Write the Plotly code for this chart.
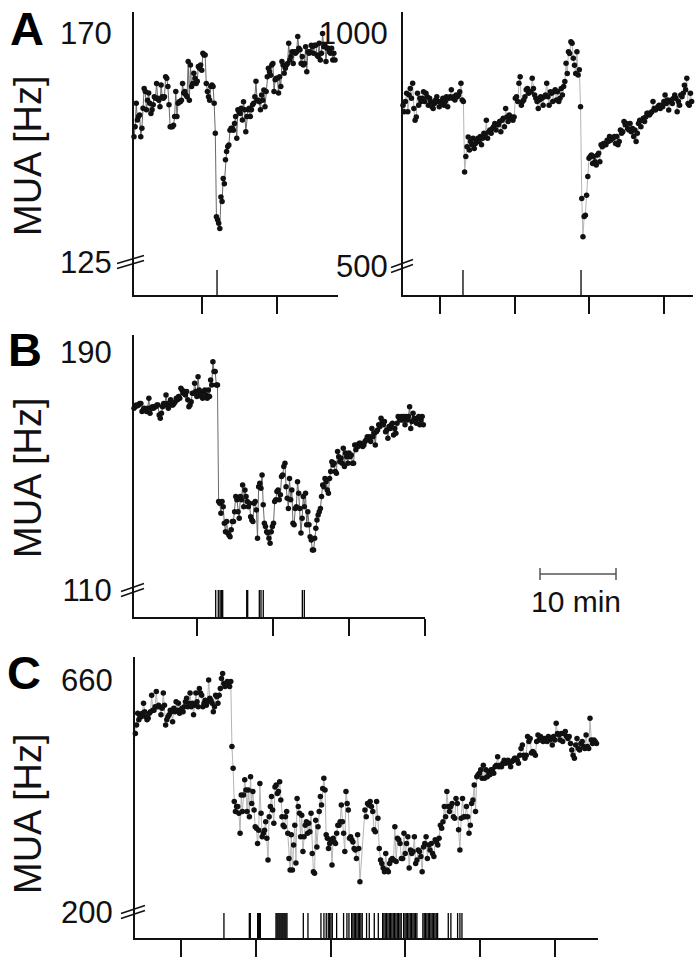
import numpy as np
import plotly.graph_objects as go

W, H = 700, 960
FONT = "Liberation Sans, Arial, Helvetica, sans-serif"

# ---------------- data (MUA in Hz) ----------------
A1_MUA = [149.6, 151.6, 156.2, 152.9, 153.6, 153.9, 149.6, 151.3, 155.2, 159.1, 158.5, 154.9, 156.8, 158.2, 156.2,
          154.2, 154.9, 155.9, 157.5, 157.2, 160.1, 157.2, 156.8, 155.5, 159.8, 157.5, 157.2, 157.5, 161.4, 161.1,
          159.5, 155.9, 151.6, 151.6, 151.6, 151.9, 153.6, 158.5, 153.6, 156.2, 156.5, 156.5, 156.8, 160.1, 158.2,
          158.5, 157.8, 157.5, 164.4, 156.8, 163.7, 159.5, 160.1, 162.1, 161.1, 160.1, 160.5, 163.4, 163.1, 163.7,
          162.7, 166.0, 165.7, 165.7, 160.1, 158.5, 157.5, 156.8, 159.5, 159.8, 159.5, 156.2, 150.3, 133.9, 133.3,
          132.6, 131.6, 137.8, 136.9, 141.4, 140.4, 145.1, 146.7, 147.7, 148.0, 150.9, 151.3, 151.3, 150.9, 152.2,
          153.6, 149.3, 154.9, 154.5, 154.2, 155.2, 152.9, 156.5, 154.9, 150.6, 153.6, 154.9, 155.2, 153.6, 154.9,
          155.9, 156.2, 157.5, 160.5, 156.8, 156.8, 156.5, 154.9, 157.8, 156.8, 158.8, 155.5, 158.5, 161.4, 163.1,
          162.4, 161.7, 163.7, 164.0, 158.5, 160.8, 161.1, 161.1, 158.2, 161.4, 159.5, 164.4, 163.7, 162.1, 163.1,
          163.7, 164.0, 168.0, 164.7, 165.4, 166.3, 164.0, 166.3, 166.0, 166.3, 169.3, 167.0, 166.7, 164.0, 165.4,
          163.7, 164.0, 167.3, 162.4, 166.3, 166.0, 166.3, 167.6, 167.3, 166.0, 167.6, 167.6, 165.7, 165.4, 168.0,
          164.7, 166.0, 169.9, 167.3, 167.6, 164.4, 167.0, 167.0, 166.3, 166.0, 167.0, 164.7, 166.0, 164.7]
A1_START, A1_END = 0.93, 27.73           # min
A1_TICKS = [10, 20]
A1_RANGE = [0.93, 28.13]
A1_EVENTS = [12.0]
A1_YTICKS = [125, 170]

A2_MUA = [845, 831, 853, 871, 831, 867, 881, 860, 892, 838, 813, 820, 871, 845, 860, 853, 860, 874, 853, 871, 863,
          845, 860, 853, 842, 838, 849, 856, 863, 853, 842, 853, 849, 860, 845, 853, 863, 842, 860, 863, 878, 860,
          863, 856, 867, 863, 867, 874, 892, 856, 853,
          702, 735, 756, 777, 749, 767, 760, 774, 752, 763, 770, 774, 767, 778, 760, 774, 785, 781, 813, 774, 788,
          792, 785, 795, 799, 806, 792, 803, 803, 810, 788, 813, 817, 799, 838, 820, 810, 824, 817, 820, 813, 820,
          860, 863, 853, 892, 906, 845, 853, 856, 863, 878, 881, 871, 874, 874, 903, 881, 867, 860, 853, 838, 856,
          863, 860, 845, 863, 867, 892, 863, 845, 874, 871, 853, 874, 878, 856, 874, 853, 860, 881, 867, 885, 896,
          935, 913, 960, 956, 981, 978, 946, 931, 913, 960, 910, 921, 842,
          645, 563, 606, 609, 652, 692, 731, 735, 738, 720, 735, 724, 717, 738, 742, 724, 760, 756, 763, 760, 760,
          770, 767, 778, 770, 774, 774, 778, 763, 778, 760, 767, 792, 785, 788, 810, 803, 806, 795, 792, 806, 788,
          795, 778, 792, 767, 785, 806, 813, 799, 813, 817, 810, 820, 828, 828, 824, 828, 831, 853, 838, 835, 838,
          842, 845, 838, 845, 842, 853, 867, 849, 856, 835, 853, 856, 849, 860, 867, 860, 831, 853, 845, 867, 863,
          871, 888, 878, 903, 849, 845, 871, 853]
A2_START, A2_END = 5.05, 43.69
A2_TICKS = [10, 20, 30, 40]
A2_RANGE = [5.05, 43.87]
A2_EVENTS = [13.08, 28.88]
A2_YTICKS = [500, 1000]

B_MUA = [171.1, 171.6, 172.2, 171.9, 172.2, 172.7, 172.7, 170.0, 170.5, 171.1, 170.5, 170.0, 171.1, 174.4, 169.4,
         171.1, 171.6, 171.1, 171.6, 171.6, 172.2, 172.2, 168.8, 167.7, 169.4, 171.6, 172.7, 172.2, 175.5, 172.7,
         171.1, 172.7, 173.9, 172.2, 172.2, 172.7, 173.3, 174.4, 173.9, 175.0, 174.4, 177.8, 177.2, 176.1, 176.7,
         175.5, 176.7, 173.9, 171.6, 172.2, 173.3, 176.1, 176.1, 179.5, 176.7, 175.0, 181.7, 177.2, 176.1, 175.0,
         174.4, 176.7, 177.2, 175.5, 174.4, 177.2, 175.0, 180.6, 178.9, 186.7, 183.4, 183.4, 178.9, 178.9,
         139.7, 139.1, 135.8, 139.7, 138.0, 132.4, 129.6, 133.0, 129.1, 128.5, 127.9, 130.2, 133.0, 133.0, 136.3,
         141.4, 140.3, 136.3, 134.1, 141.4, 140.3, 145.3, 138.0, 143.6, 141.4, 139.7, 138.0, 139.1, 134.6, 133.5,
         133.0, 139.1, 139.7, 136.9, 127.4, 144.7, 145.9, 144.2, 148.6, 138.6, 132.4, 131.3, 129.6, 129.1, 127.4,
         125.7, 129.6, 131.3, 132.4, 139.7, 140.3, 143.1, 143.6, 140.3, 142.0, 148.1, 148.6, 151.5, 152.6, 144.7,
         140.8, 137.4, 147.5, 140.3, 143.6, 132.4, 131.9, 137.4, 138.0, 146.4, 142.5, 137.4, 129.1, 134.1, 141.4,
         138.0, 142.5, 131.9, 136.3, 131.9, 127.9, 126.8, 123.4, 123.4, 127.4, 130.7, 133.5, 135.2, 136.3, 137.4,
         141.4, 145.3, 144.7, 147.5, 146.4, 143.6, 142.5, 147.5, 149.8, 153.1, 152.0, 152.6, 149.8, 149.2, 156.5,
         154.8, 153.1, 154.3, 152.6, 157.6, 151.5, 156.0, 154.8, 152.6, 156.0, 154.8, 155.4, 152.6, 152.6, 158.7,
         157.1, 158.7, 158.2, 159.3, 159.3, 158.7, 158.2, 158.7, 159.9, 160.4, 161.5, 161.0, 161.5, 159.9, 164.3,
         161.5, 162.7, 158.7, 163.2, 163.8, 165.5, 164.9, 167.7, 166.6, 165.5, 166.6, 163.2, 163.8, 161.0, 164.9,
         164.3, 165.5, 166.0, 162.1, 164.3, 162.7, 166.0, 168.3, 167.7, 167.1, 168.3, 167.1, 168.3, 165.5, 168.3,
         167.1, 168.3, 171.6, 164.3, 166.6, 169.4, 167.7, 167.1, 166.0, 167.7, 168.3, 165.5, 167.1, 168.3, 165.5]
B_START, B_END = 1.71, 39.78
B_TICKS = [10, 20, 30, 40]
B_RANGE = [1.71, 40.0]
B_EVENTS = [12.46, 12.80, 13.03, 13.20, 13.38, 16.54, 16.67, 18.20, 18.42, 18.72, 23.86, 24.12]
B_YTICKS = [110, 190]

C_MUA_1 = [554, 571, 594, 581, 587, 587, 594, 614, 597, 587, 581, 584, 594, 597, 630, 600, 600, 607, 637, 607, 610,
           607, 591, 604, 634, 610, 571, 581, 587, 591, 600, 597, 577, 604, 597, 617, 600, 614, 594, 600, 604, 597,
           607, 617, 624, 607, 614, 634, 607, 614, 591, 610, 634, 617, 607, 643, 634, 630, 607, 614, 620, 610, 617,
           660, 624, 620, 614, 597, 607, 630, 627, 614, 630, 643, 663, 673, 653, 647, 650, 657, 650, 647, 657,
           528, 485, 419, 399, 409, 409, 396, 356, 432, 399, 432, 462, 442, 399, 442, 389, 468, 415, 439, 402, 369,
           366, 336, 362, 455, 396, 349, 356, 362, 379, 346, 303, 389, 409, 429, 402, 376, 448, 452, 435, 439, 458,
           422, 389, 372, 369, 389, 399, 356, 306, 283, 353, 283, 333, 372, 297, 425, 409, 396, 349, 392, 320, 349,
           372, 379, 356, 376, 359, 396, 316, 280, 277, 382, 329, 369, 399, 429, 412, 445, 465, 442, 353, 346, 326,
           336, 343, 293, 346, 339, 336, 356, 372, 372, 379, 412, 379, 356, 320, 439, 415, 402, 346, 349, 343, 339,
           326, 323, 306, 353, 326, 260]
C_MUA_2 = [402, 389, 415, 412, 419, 409, 399, 363, 359, 419, 386, 326, 303, 296, 287, 280, 316, 283, 280, 296, 303,
           306, 303, 369, 300, 346, 343, 336, 306, 306, 356, 316, 336, 349, 287, 323, 316, 320, 349, 296, 303, 323,
           320, 310, 280, 329, 336, 349, 306, 333, 323, 336, 316, 310, 343, 339, 333, 346, 372, 366, 379, 409, 389,
           439, 409, 399, 409, 415, 389, 386, 425, 415, 363, 323, 386, 425, 389, 389, 409, 389, 356, 372, 415, 422,
           452, 399, 468, 472, 475, 482, 465, 491, 465, 482, 468, 478, 472, 482, 482, 475, 488, 491, 508, 488, 491,
           488, 495, 501, 495, 498, 501, 495, 488, 498, 501, 505, 505, 501, 495, 511, 524, 531, 511, 505, 511, 548,
           538, 544, 515, 518, 515, 511, 538, 551, 541, 548, 541, 538, 544, 541, 538, 548, 541, 544, 531, 548, 541,
           574, 554, 551, 541, 554, 538, 554, 558, 548, 544, 548, 534, 521, 511, 505, 531, 544, 524, 521, 534, 538,
           528, 524, 551, 528, 524, 584, 541, 534, 541, 538, 534]
C_START_1, C_END_1 = 3.85, 33.92
C_START_2, C_END_2 = 34.59, 65.6
C_TICKS = [10, 20, 30, 40, 50, 60]
C_RANGE = [3.8, 65.8]
C_EVENTS = [15.71, 19.11, 19.24, 20.22, 20.36, 20.49, 20.58,
            22.68, 22.81, 22.94, 23.08, 23.21, 23.35, 23.48, 23.61, 23.75, 23.88, 24.01, 24.15,
            26.34, 26.96, 28.70, 29.10, 29.41, 29.68, 29.86, 30.04, 30.22, 30.80, 31.73, 32.18, 32.45,
            32.81, 32.98, 33.16, 33.34, 33.52, 33.70, 33.88, 34.05, 34.23,
            34.81, 35.17, 35.84, 36.38,
            36.96, 37.13, 37.31, 37.49, 37.67, 37.85, 38.03, 38.20, 38.38, 38.56, 38.74, 38.92, 39.10, 39.28, 39.45,
            39.77, 39.95, 40.12, 40.30, 40.48, 40.66, 40.84, 41.02, 41.19, 41.37, 41.55,
            42.35, 42.53, 42.71, 42.89, 43.07, 43.25, 43.43, 43.60, 43.78, 43.96, 44.14, 44.32,
            45.75, 46.10, 47.00, 47.31, 47.58]
C_YTICKS = [200, 660]


def px_x(p):
    return p / W


def px_y(p):
    return 1 - p / H


panels = [
    dict(vals=A1_MUA, times=np.linspace(A1_START, A1_END, len(A1_MUA)), xr=A1_RANGE, yr=[118.52, 174.13],
         pxx=(134, 338), pyy=(295, 12), ticks=A1_TICKS, yt=A1_YTICKS, ev=A1_EVENTS, lc="#6a6a6a",
         evh=25, stand=14, brk=(-17, 10)),
    dict(vals=A2_MUA, times=np.linspace(A2_START, A2_END, len(A2_MUA)), xr=A2_RANGE, yr=[437.8, 1045.1],
         pxx=(403, 693), pyy=(295, 12), ticks=A2_TICKS, yt=A2_YTICKS, ev=A2_EVENTS, lc="#b5b5b5",
         evh=25, stand=7, brk=(-12, 10)),
    dict(vals=B_MUA, times=np.linspace(B_START, B_END, len(B_MUA)), xr=B_RANGE, yr=[100.9, 195.7],
         pxx=(134, 425), pyy=(617, 335), ticks=B_TICKS, yt=B_YTICKS, ev=B_EVENTS, lc="#6a6a6a",
         evh=27, stand=14, brk=(-13, 10)),
    dict(vals=C_MUA_1 + C_MUA_2,
         times=np.concatenate([np.linspace(C_START_1, C_END_1, len(C_MUA_1)),
                               np.linspace(C_START_2, C_END_2, len(C_MUA_2))]),
         xr=C_RANGE, yr=[148.4, 705.6],
         pxx=(135, 598), pyy=(938, 657), ticks=C_TICKS, yt=C_YTICKS, ev=C_EVENTS, lc="#b5b5b5",
         evh=25, stand=14, brk=(-14, 10)),
]

fig = go.Figure()
shapes = []
layout = dict(
    width=W, height=H, margin=dict(l=0, r=0, t=0, b=0), template="none",
    paper_bgcolor="white", plot_bgcolor="rgba(0,0,0,0)", showlegend=False,
    font=dict(family=FONT, color="#111111"),
)

for i, p in enumerate(panels, start=1):
    sx = "" if i == 1 else str(i)
    fig.add_trace(go.Scatter(
        x=p["times"], y=p["vals"], mode="lines+markers", xaxis="x" + sx, yaxis="y" + sx,
        line=dict(color=p["lc"], width=1), marker=dict(color="#111111", size=5.5),
        hoverinfo="skip", cliponaxis=False))
    layout["xaxis" + sx] = dict(
        domain=[px_x(p["pxx"][0]), px_x(p["pxx"][1])], range=p["xr"], anchor="y" + sx,
        showline=True, linecolor="#111111", linewidth=2, ticks="outside", ticklen=17, tickwidth=2,
        tickcolor="#111111", tickvals=p["ticks"], showticklabels=False, showgrid=False, zeroline=False,
        automargin=False, fixedrange=True)
    layout["yaxis" + sx] = dict(
        domain=[px_y(p["pyy"][0]), px_y(p["pyy"][1])], range=p["yr"], anchor="x" + sx,
        showline=True, linecolor="#111111", linewidth=2, ticks="", tickvals=p["yt"],
        ticktext=[str(v) for v in p["yt"]], tickfont=dict(size=31, family=FONT, color="#111111"),
        ticklabelstandoff=p["stand"], showgrid=False, zeroline=False, automargin=False, fixedrange=True)
    # event markers
    dom_h = p["pyy"][0] - p["pyy"][1]
    for t in p["ev"]:
        shapes.append(dict(type="line", xref="x" + sx, yref="y" + sx + " domain", x0=t, x1=t,
                           y0=0, y1=p["evh"] / dom_h, line=dict(color="#000000", width=1.3)))
    # axis break marks at lower labelled value
    y0v, y1v = p["yr"]
    bpy = p["pyy"][0] - (p["yt"][0] - y0v) / (y1v - y0v) * dom_h
    ax = p["pxx"][0]
    for off in (-2.5, 2.5):
        shapes.append(dict(type="line", xref="paper", yref="paper",
                           x0=px_x(ax + p["brk"][0]), y0=px_y(bpy + off + 4),
                           x1=px_x(ax + p["brk"][1]), y1=px_y(bpy + off - 4),
                           line=dict(color="#111111", width=1.5)))

# scale bar (10 min)
SB_X0, SB_X1, SB_Y = 540, 616, 574
shapes.append(dict(type="line", xref="paper", yref="paper", x0=px_x(SB_X0), x1=px_x(SB_X1),
                   y0=px_y(SB_Y), y1=px_y(SB_Y), line=dict(color="#555555", width=1.5)))
for xx in (SB_X0, SB_X1):
    shapes.append(dict(type="line", xref="paper", yref="paper", x0=px_x(xx), x1=px_x(xx),
                       y0=px_y(SB_Y - 6), y1=px_y(SB_Y + 6), line=dict(color="#555555", width=1.5)))

annotations = []
for letter, (lx, ly) in zip(["A", "B", "C"], [(27, 29), (25, 350), (24, 672)]):
    annotations.append(dict(text="<b>" + letter + "</b>", x=px_x(lx), y=px_y(ly), xref="paper", yref="paper",
                            showarrow=False, xanchor="center", yanchor="middle",
                            font=dict(size=47, family=FONT, color="#000000")))
for ly in (156, 478, 814):
    annotations.append(dict(text="MUA [Hz]", x=px_x(28), y=px_y(ly), xref="paper", yref="paper",
                            showarrow=False, textangle=-90, xanchor="center", yanchor="middle",
                            font=dict(size=38, family=FONT, color="#111111")))
annotations.append(dict(text="10 min", x=px_x(576), y=px_y(601), xref="paper", yref="paper", showarrow=False,
                        xanchor="center", yanchor="middle", font=dict(size=30, family=FONT, color="#111111")))

layout["shapes"] = shapes
layout["annotations"] = annotations
fig.update_layout(**layout)

fig.write_html("out.html", config={"displayModeBar": False},
               post_script="document.body.style.margin='0';document.body.style.overflow='hidden';")
